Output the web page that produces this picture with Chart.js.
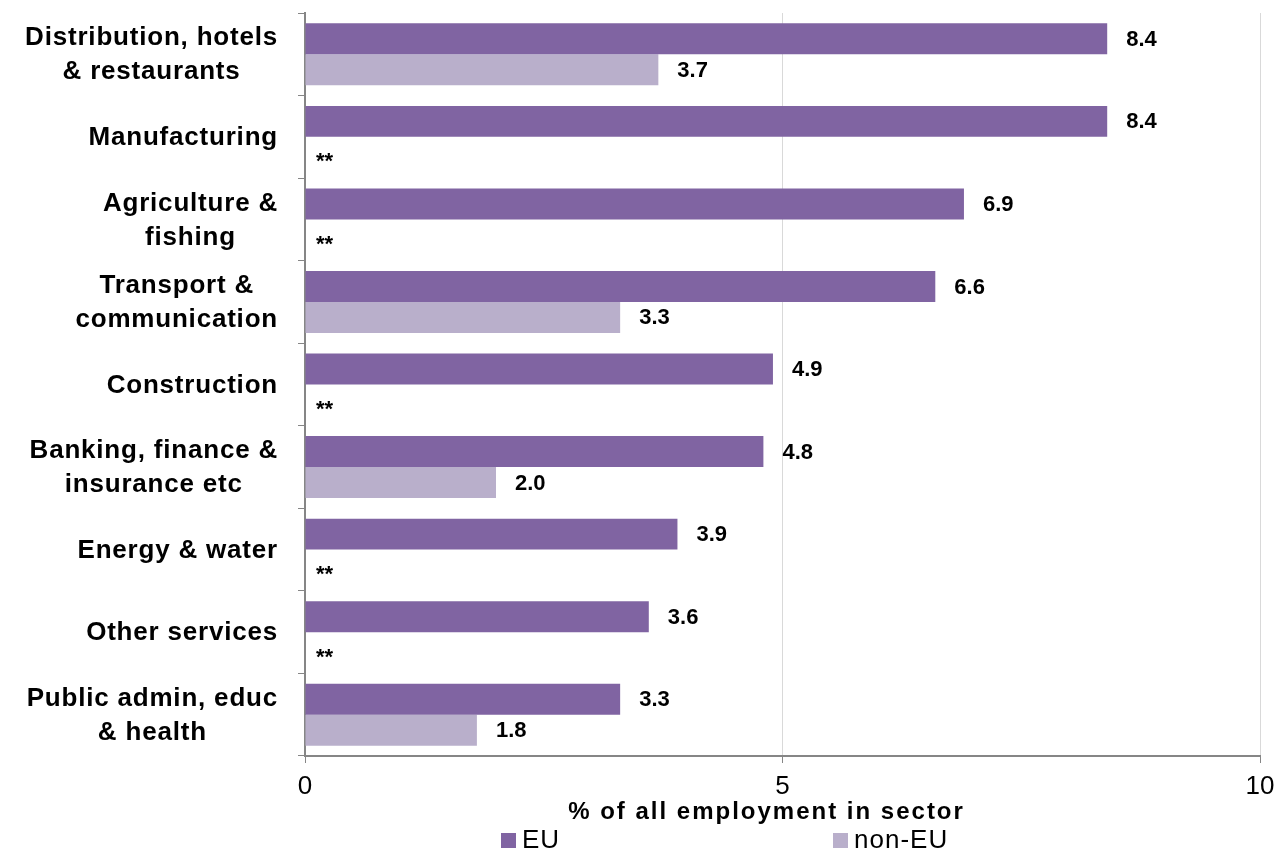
<!DOCTYPE html>
<html>
<head>
<meta charset="utf-8">
<title>Employment share by sector</title>
<script src="https://cdn.jsdelivr.net/npm/chart.js@4.4.0/dist/chart.umd.min.js"></script>
<style>
  html, body { margin: 0; padding: 0; background: #fff; }
  #wrap { position: relative; width: 1278px; height: 858px; }
</style>
</head>
<body>
<div id="wrap"><canvas id="sectorChart"></canvas></div>
<script>
// Sector names (one entry per line of the label)
const SECTORS = [
  ["Distribution, hotels", "& restaurants"],
  ["Manufacturing"],
  ["Agriculture &", "fishing"],
  ["Transport &", "communication"],
  ["Construction"],
  ["Banking, finance &", "insurance etc"],
  ["Energy & water"],
  ["Other services"],
  ["Public admin, educ", "& health"],
];
const EU_SHARE     = [8.4, 8.4, 6.9, 6.6, 4.9, 4.8, 3.9, 3.6, 3.3];
const NON_EU_SHARE = [3.7, null, null, 3.3, null, 2.0, null, null, 1.8];
const SERIES_NAMES = ["EU", "non-EU"];
const X_TICKS      = [0, 5, 10];
const AXIS_TITLE   = "% of all employment in sector";
const MISSING_MARK = "**";   // sample too small to report

const COLORS = {
  eu:     "#8064A2",
  nonEu:  "#B9AFCB",
  axis:   "#868686",
  grid:   "#D9D9D9",
  text:   "#000000",
};
const FONT = "'Liberation Sans', Arial, sans-serif";

Chart.defaults.font.family = FONT;
Chart.defaults.color = COLORS.text;

// Category labels: block right-aligned to the axis, lines centred within the block
const sectorLabels = {
  id: "sectorLabels",
  afterDraw(chart) {
    const { ctx, chartArea } = chart;
    const yScale = chart.scales.y;
    const right = chartArea.left - 27;
    const lineH = 34;
    ctx.save();
    ctx.font = `bold 26px ${FONT}`;
    ctx.letterSpacing = "0.8px";
    ctx.fillStyle = COLORS.text;
    ctx.textAlign = "center";
    ctx.textBaseline = "middle";
    chart.data.labels.forEach((lines, i) => {
      const w = Math.max(...lines.map((l) => ctx.measureText(l).width));
      const cx = right - w / 2;
      const cy = yScale.getPixelForValue(i);
      lines.forEach((line, j) => {
        ctx.fillText(line, cx, cy + (j - (lines.length - 1) / 2) * lineH + 1);
      });
    });
    ctx.restore();
  },
};

// Value labels at the end of each bar, "**" where no value is published
const barValues = {
  id: "barValues",
  afterDatasetsDraw(chart) {
    const { ctx } = chart;
    const x0 = chart.scales.x.getPixelForValue(0);
    ctx.save();
    ctx.font = `bold 22px ${FONT}`;
    ctx.fillStyle = COLORS.text;
    ctx.textAlign = "left";
    ctx.textBaseline = "middle";
    chart.data.datasets.forEach((ds, di) => {
      chart.getDatasetMeta(di).data.forEach((bar, i) => {
        const v = ds.data[i];
        if (v == null) {
          ctx.fillText(MISSING_MARK, x0 + 11, bar.y + 10);
        } else {
          ctx.fillText(v.toFixed(1), bar.x + 19, bar.y + 1);
        }
      });
    });
    ctx.restore();
  },
};

// Axis title and legend underneath the plot
const footer = {
  id: "footer",
  afterDraw(chart) {
    const { ctx, chartArea } = chart;
    const base = chartArea.bottom;
    ctx.save();
    ctx.fillStyle = COLORS.text;

    ctx.font = `bold 24px ${FONT}`;
    ctx.letterSpacing = "2px";
    ctx.textAlign = "center";
    ctx.textBaseline = "middle";
    ctx.fillText(AXIS_TITLE, (chartArea.left + chartArea.right) / 2 - 16, base + 56);

    const itemX = [chartArea.left + 196, chartArea.left + 528];
    ctx.font = `26px ${FONT}`;
    ctx.letterSpacing = "1px";
    ctx.textAlign = "left";
    ctx.textBaseline = "alphabetic";
    chart.data.datasets.forEach((ds, i) => {
      ctx.fillStyle = ds.backgroundColor;
      ctx.fillRect(itemX[i], base + 77, 15, 15);
      ctx.fillStyle = COLORS.text;
      ctx.fillText(ds.label, itemX[i] + 21, base + 92);
    });
    ctx.restore();
  },
};

const ctx = document.getElementById("sectorChart").getContext("2d");

new Chart(ctx, {
  type: "bar",
  data: {
    labels: SECTORS,
    datasets: [
      {
        label: SERIES_NAMES[0],
        data: EU_SHARE,
        backgroundColor: COLORS.eu,
        borderWidth: 0,
      },
      {
        label: SERIES_NAMES[1],
        data: NON_EU_SHARE,
        backgroundColor: COLORS.nonEu,
        borderWidth: 0,
      },
    ],
  },
  options: {
    indexAxis: "y",
    responsive: true,
    maintainAspectRatio: false,
    animation: false,
    layout: { padding: { top: 13, right: 18, left: 0, bottom: 0 } },
    datasets: { bar: { categoryPercentage: 0.75, barPercentage: 1.0 } },
    plugins: {
      legend: { display: false },
      tooltip: { enabled: false },
    },
    scales: {
      x: {
        min: 0,
        max: 10,
        afterBuildTicks: (scale) => {
          scale.ticks = X_TICKS.map((v) => ({ value: v }));
        },
        grid: { color: COLORS.grid, lineWidth: 1, tickColor: COLORS.axis, tickLength: 7 },
        border: { color: COLORS.axis, width: 2 },
        ticks: { color: COLORS.text, font: { size: 26 }, padding: 8, maxRotation: 0 },
        afterFit: (scale) => {
          scale.height = 102;
          scale.paddingRight = 0;   // "10" may overhang the plot edge
        },
      },
      y: {
        z: 1,
        grid: { drawOnChartArea: false, color: COLORS.axis, tickLength: 7, offset: true },
        border: { color: COLORS.axis, width: 2 },
        ticks: { display: false },
        afterFit: (scale) => { scale.width = 305; },
      },
    },
  },
  plugins: [sectorLabels, barValues, footer],
});
</script>
</body>
</html>
